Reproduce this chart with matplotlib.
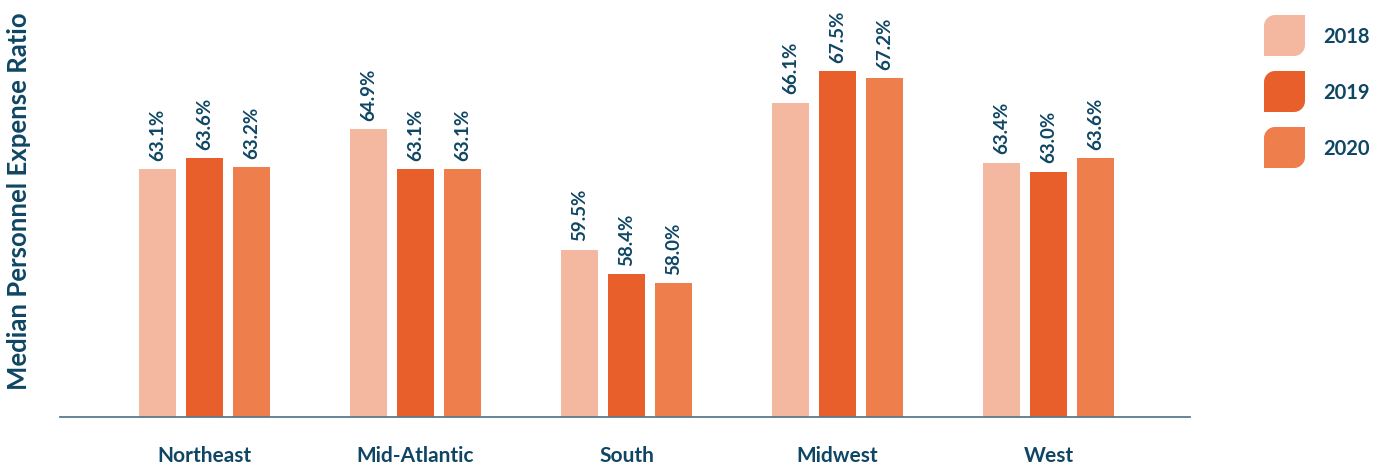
import matplotlib.pyplot as plt
import numpy as np
from matplotlib.path import Path
from matplotlib.patches import PathPatch

regions = ["Northeast", "Mid-Atlantic", "South", "Midwest", "West"]
years = ["2018", "2019", "2020"]
ratio_2018 = [63.1, 64.9, 59.5, 66.1, 63.4]
ratio_2019 = [63.6, 63.1, 58.4, 67.5, 63.0]
ratio_2020 = [63.2, 63.1, 58.0, 67.2, 63.6]

colors = ["#F4B7A0", "#E95F2C", "#EE7E4C"]
navy = "#0F4664"

plt.rcParams['font.family'] = ['Lato', 'DejaVu Sans']

fig = plt.figure(figsize=(13.85, 4.7), dpi=100)
ax = fig.add_axes([60 / 1385, 53 / 470, 1130 / 1385, 417 / 470])

x = np.arange(len(regions))
width = 0.175
step = 0.223

for i, vals in enumerate([ratio_2018, ratio_2019, ratio_2020]):
    pos = x + (i - 1) * step
    ax.bar(pos, vals, width, color=colors[i])
    for px, v in zip(pos, vals):
        ax.annotate(f"{v:.1f}%", (px, v), xytext=(0, 6), textcoords="offset points",
                    rotation=90, ha="center", va="bottom", fontsize=13.5,
                    fontweight="bold", color=navy)

ax.set_ylim(52.0, 52.0 + 417 / 22.3)
ax.set_xlim(-0.685, 4.67)

for s in ["top", "right", "left"]:
    ax.spines[s].set_visible(False)
ax.spines["bottom"].set_color("#5B7A8C")
ax.spines["bottom"].set_linewidth(1.3)
ax.set_yticks([])
ax.set_xticks(x)
ax.set_xticklabels(regions, fontsize=15, fontweight="bold", color=navy)
ax.tick_params(axis="x", length=0, pad=21)

fig.text(19 / 1385, 1 - 201 / 470, "Median Personnel Expense Ratio", rotation=90,
         ha="center", va="center", fontsize=18.5, fontweight="bold", color=navy)


# legend swatches: rounded top-left and bottom-right corners
def leaf(x0, y0, s, r):
    k = 0.55 * r
    verts = [
        (x0, y0), (x0 + s - r, y0),
        (x0 + s - r + k, y0), (x0 + s, y0 + r - k), (x0 + s, y0 + r),
        (x0 + s, y0 + s),
        (x0 + r, y0 + s),
        (x0 + r - k, y0 + s), (x0, y0 + s - r + k), (x0, y0 + s - r),
        (x0, y0),
    ]
    codes = [Path.MOVETO, Path.LINETO,
             Path.CURVE4, Path.CURVE4, Path.CURVE4,
             Path.LINETO, Path.LINETO,
             Path.CURVE4, Path.CURVE4, Path.CURVE4,
             Path.CLOSEPOLY]
    return Path(verts, codes)


for i, yr in enumerate(years):
    top = 15 + i * 56
    y0 = 470 - top - 41
    patch = PathPatch(leaf(1264, y0, 41, 11), facecolor=colors[i], edgecolor="none",
                      transform=None)
    fig.patches.append(patch)
    fig.text(1323 / 1385, (470 - top - 22) / 470, yr, ha="left", va="center",
             fontsize=14.5, fontweight="bold", color=navy)

fig.savefig("out.png", dpi=100)
